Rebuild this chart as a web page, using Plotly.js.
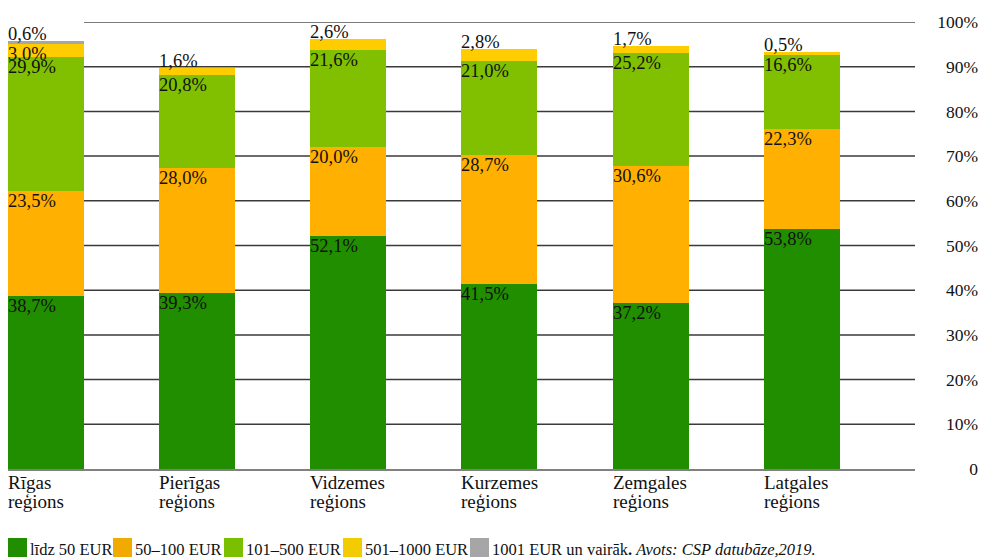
<!DOCTYPE html>
<html>
<head>
<meta charset="utf-8">
<script src="https://cdn.plot.ly/plotly-3.0.1.min.js"></script>
<style>html,body{margin:0;padding:0;background:#fff;}#chart{width:981px;height:558px;}</style>
</head>
<body>
<div id="chart"></div>
<script>
// ---- data ----
const categories = ["Rīgas reģions", "Pierīgas reģions", "Vidzemes reģions", "Kurzemes reģions", "Zemgales reģions", "Latgales reģions"];
const seriesNames = ["līdz 50 EUR", "50–100 EUR", "101–500 EUR", "501–1000 EUR", "1001 EUR un vairāk"];
const upTo50 = [38.7, 39.3, 52.1, 41.5, 37.2, 53.8];
const from50to100 = [23.5, 28.0, 20.0, 28.7, 30.6, 22.3];
const from101to500 = [29.9, 20.8, 21.6, 21.0, 25.2, 16.6];
const from501to1000 = [3.0, 1.6, 2.6, 2.8, 1.7, 0.5];
const over1001 = [0.6, null, null, null, null, null];
const yTickVals = [0, 10, 20, 30, 40, 50, 60, 70, 80, 90, 100];
const yTickText = ["0", "10%", "20%", "30%", "40%", "50%", "60%", "70%", "80%", "90%", "100%"];
const sourceNote = "Avots: CSP datubāze,2019.";

// ---- styling ----
const colors = ["#218e00", "#ffb000", "#80c000", "#ffcc00", "#a6a6a6"];
const legendColors = ["#218e00", "#f0aa00", "#7abf00", "#f2cc00", "#a6a6a6"];
const serif = "Liberation Serif, Times New Roman, serif";
const allSeries = [upTo50, from50to100, from101to500, from501to1000, over1001];

const M = {l: 8, r: 3, t: 22, b: 89};
const PW = 981 - M.l - M.r, PH = 558 - M.t - M.b;
const px2x = p => (p - M.l) / PW;
const py2y = p => (M.t + PH - p) / PH;
const BW = 0.503;
const XR = [-BW / 2, 5.75];
const XDOM = [0, px2x(915)];
const xs = categories.map((c, i) => i);
const dataToPaperX = v => XDOM[0] + (v - XR[0]) / (XR[1] - XR[0]) * (XDOM[1] - XDOM[0]);

const traces = allSeries.map((vals, s) => ({
  type: "bar",
  x: xs,
  y: vals,
  name: seriesNames[s],
  width: BW,
  marker: {color: colors[s], line: {width: 0}},
  hoverinfo: "skip",
  showlegend: false
}));

const fmt = v => v.toFixed(1).replace(".", ",") + "%";
const annotations = [];

// segment labels
categories.forEach((c, i) => {
  let lastIdx = -1;
  allSeries.forEach((vals, s) => { if (vals[i] != null) lastIdx = s; });
  let cum = 0;
  allSeries.forEach((vals, s) => {
    const v = vals[i];
    if (v == null) return;
    cum += v;
    const isTop = s === lastIdx;
    annotations.push({
      xref: "x", yref: "y", x: i - BW / 2, y: cum,
      text: fmt(v), showarrow: false, borderpad: 0,
      xanchor: "left", yanchor: isTop ? "bottom" : "top",
      xshift: -1, yshift: isTop ? -4 : 1,
      font: {family: serif, size: 18.5, color: "#111"}
    });
  });
  // category labels (two lines)
  const parts = c.split(" ");
  parts.forEach((p, k) => {
    annotations.push({
      xref: "x", yref: "paper", x: i - BW / 2, y: 0,
      text: p, showarrow: false, xanchor: "left", yanchor: "top",
      xshift: -2, yshift: -1 - 18.5 * k,
      font: {family: serif, size: 19, color: "#111"}
    });
  });
});

// custom legend
const legendSquareX = [8, 113, 224, 343, 470];
const shapes = [];
seriesNames.forEach((n, s) => {
  const x0 = legendSquareX[s];
  shapes.push({
    type: "rect", xref: "paper", yref: "paper",
    x0: px2x(x0), x1: px2x(x0 + 19), y0: py2y(557), y1: py2y(538),
    fillcolor: legendColors[s], line: {width: 0}
  });
  let txt = n;
  if (s === seriesNames.length - 1) txt = n + "<b>.</b> <i>" + sourceNote + "</i>";
  annotations.push({
    xref: "paper", yref: "paper", x: px2x(x0 + 21), y: py2y(549.5),
    text: txt, showarrow: false, xanchor: "left", yanchor: "middle", borderpad: 0,
    font: {family: serif, size: 16.5, color: "#111"}
  });
});

// gridlines (start at right edge of first bar), drawn beneath the bars
yTickVals.filter(v => v > 0).forEach(v => {
  shapes.push({
    type: "line", xref: "paper", yref: "y",
    x0: dataToPaperX(BW / 2), x1: XDOM[1], y0: v, y1: v,
    line: {color: v === 100 ? "#7a7a7a" : "#3a3a3a", width: v === 100 ? 2 : 1.5},
    layer: "below"
  });
});

const layout = {
  width: 981, height: 558,
  margin: M,
  paper_bgcolor: "#fff", plot_bgcolor: "rgba(0,0,0,0)",
  barmode: "stack",
  showlegend: false,
  xaxis: {
    domain: XDOM, range: XR,
    showticklabels: false, ticks: "",
    showgrid: false, zeroline: false,
    showline: true, linecolor: "#808080", linewidth: 2,
    fixedrange: true
  },
  yaxis: {
    range: [0, 100],
    anchor: "free", position: 1, side: "left",
    tickvals: yTickVals, ticktext: yTickText,
    ticks: "", showgrid: false, zeroline: false, showline: false,
    tickfont: {family: serif, size: 17.5, color: "#111"},
    fixedrange: true
  },
  shapes: shapes,
  annotations: annotations
};

Plotly.newPlot("chart", traces, layout, {displayModeBar: false, staticPlot: true});
</script>
</body>
</html>
